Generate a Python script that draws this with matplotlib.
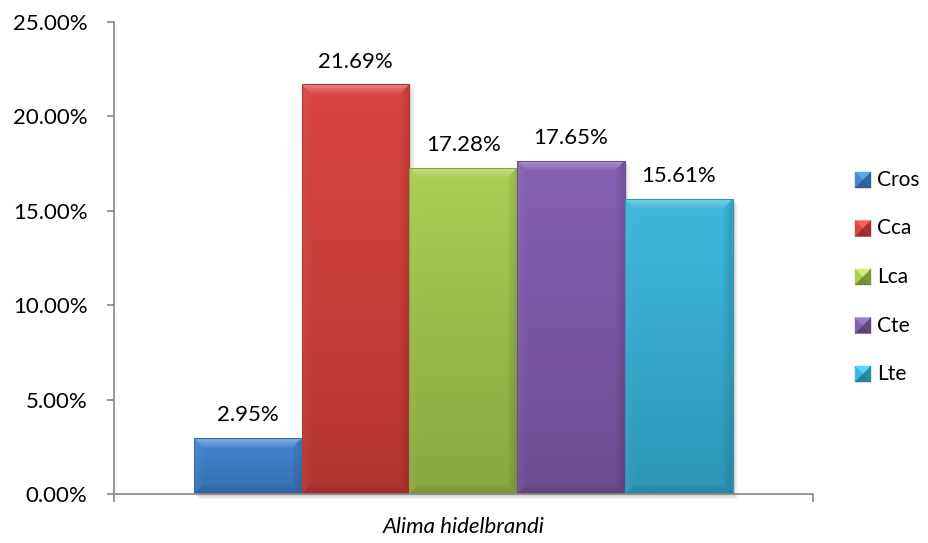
import numpy as np
import matplotlib
matplotlib.use("Agg")
import matplotlib.pyplot as plt
from matplotlib.patches import Polygon, Rectangle
from matplotlib.ticker import FuncFormatter, FixedLocator

# ---- data ----
species = "Alima hidelbrandi"
series = ["Cros", "Cca", "Lca", "Cte", "Lte"]
values = [2.95, 21.69, 17.28, 17.65, 15.61]          # percent
y_ticks = [0, 5, 10, 15, 20, 25]

# top / bottom shades of each series' fill
top_colors = ["#4687d2", "#da4642", "#aace54", "#8462b2", "#3eb8da"]
bottom_colors = ["#376eaf", "#b43432", "#89a640", "#6c4c90", "#2e96b6"]

FONT = "Lato"
FS = 16
W, H = 929, 543
fig = plt.figure(figsize=(W / 100, H / 100), dpi=100)
ax_l, ax_b, ax_w, ax_h = 114, 49, 699, 472
ax = fig.add_axes([ax_l / W, ax_b / H, ax_w / W, ax_h / H])

x = np.arange(len(series))
bar_w = 1.0
x_lo = -0.5 - 80 / 107.7
x_hi = x_lo + ax_w / 107.7
ax.set_xlim(x_lo, x_hi)
ax.set_ylim(0, 25)

px_x = ax_w / (x_hi - x_lo)   # pixels per x unit
px_y = ax_h / 25.0            # pixels per y unit


def hex2rgb(h):
    h = h.lstrip("#")
    return np.array([int(h[i:i + 2], 16) / 255 for i in (0, 2, 4)])


bars = ax.bar(x, values, width=bar_w, color=top_colors, linewidth=0, zorder=2)

for i, b in enumerate(bars):
    x0, y0 = b.get_x(), 0.0
    x1, y1 = x0 + b.get_width(), b.get_height()

    # soft drop shadow
    for k, a in [(5, 0.04), (3.5, 0.06), (2, 0.08)]:
        ax.add_patch(Rectangle((x0 + k / px_x, y0 - k / px_y), x1 - x0, y1 - y0,
                               facecolor="black", alpha=a, linewidth=0, zorder=1.5,
                               clip_on=False))

    # vertical gradient fill
    c_top, c_bot = hex2rgb(top_colors[i]), hex2rgb(bottom_colors[i])
    t = np.linspace(0, 1, 64)[:, None]
    grad = (c_top[None, :] * (1 - t) + c_bot[None, :] * t)[:, None, :]
    im = ax.imshow(grad, extent=(x0, x1, y0, y1), aspect="auto",
                   interpolation="bilinear", zorder=2.5, origin="upper")
    im.set_clip_path(b)

    # bevel facets, built from thin layers so they fade inward
    for frac, a_top, a_side in [(1.0, 0.09, 0.035), (0.7, 0.10, 0.035), (0.35, 0.13, 0.045)]:
        bx, by = 9 * frac / px_x, 9 * frac / px_y
        top = [(x0, y1), (x1, y1), (x1 - bx, y1 - by), (x0 + bx, y1 - by)]
        left = [(x0, y0), (x0, y1), (x0 + bx, y1 - by), (x0 + bx, y0 + by)]
        right = [(x1, y0), (x1, y1), (x1 - bx, y1 - by), (x1 - bx, y0 + by)]
        bottom = [(x0, y0), (x1, y0), (x1 - bx, y0 + by), (x0 + bx, y0 + by)]
        ax.add_patch(Polygon(top, closed=True, facecolor="white", alpha=a_top,
                             linewidth=0, zorder=3))
        ax.add_patch(Polygon(left, closed=True, facecolor="white", alpha=a_side * 0.6,
                             linewidth=0, zorder=3))
        ax.add_patch(Polygon(right, closed=True, facecolor="black", alpha=a_side,
                             linewidth=0, zorder=3))
        ax.add_patch(Polygon(bottom, closed=True, facecolor="black", alpha=a_side,
                             linewidth=0, zorder=3))
    ax.add_patch(Rectangle((x0, y0), x1 - x0, y1 - y0, facecolor="none",
                           edgecolor=bottom_colors[i], linewidth=0.8, zorder=3.2))

    ax.annotate(f"{values[i]:.2f}%", (x[i], values[i]), xytext=(0, 16.5),
                textcoords="offset points", ha="center", va="center",
                fontsize=FS, family=FONT, color="black", zorder=4)

ax.set_xlim(x_lo, x_hi)
ax.set_ylim(0, 25)

# axes styling
axis_grey = "#868686"
for s in ["top", "right"]:
    ax.spines[s].set_visible(False)
for s in ["left", "bottom"]:
    ax.spines[s].set_color(axis_grey)
    ax.spines[s].set_linewidth(1.2)
    ax.spines[s].set_zorder(5)

ax.yaxis.set_major_locator(FixedLocator(y_ticks))
ax.yaxis.set_major_formatter(FuncFormatter(lambda v, p: f"{v:.2f}%"))
ax.tick_params(axis="y", direction="out", length=5, width=1.2, color=axis_grey,
               pad=14, labelsize=FS)
for lab in ax.get_yticklabels():
    lab.set_family(FONT)

ax.set_xticks([x_lo, x_hi])
ax.set_xticklabels([])
ax.tick_params(axis="x", direction="out", length=5.5, width=1.2, color=axis_grey)

fig.text((ax_l + ax_w / 2) / W, 1 - 527 / H, species, ha="center", va="center",
         fontsize=FS, family=FONT, style="italic")

# legend with pyramid-bevelled keys
sq = 16
for i, name in enumerate(series):
    cy = 180 + 48.5 * i
    lx0, lx1 = 855, 855 + sq
    ly0, ly1 = H - (cy + sq / 2), H - (cy - sq / 2)
    cx, cyy = (lx0 + lx1) / 2, (ly0 + ly1) / 2
    base = hex2rgb(top_colors[i])
    dark = hex2rgb(bottom_colors[i])
    facets = [
        ([(lx0, ly1), (lx1, ly1), (cx, cyy)], np.clip(base * 1.1 + 0.06, 0, 1)),
        ([(lx0, ly0), (lx0, ly1), (cx, cyy)], base),
        ([(lx1, ly0), (lx1, ly1), (cx, cyy)], dark * 0.92),
        ([(lx0, ly0), (lx1, ly0), (cx, cyy)], dark * 0.85),
    ]
    for pts, col in facets:
        fig.add_artist(Polygon([(px / W, py / H) for px, py in pts], closed=True,
                               facecolor=col, edgecolor=col, linewidth=0.3,
                               transform=fig.transFigure))
    fig.text(877 / W, 1 - cy / H, name, ha="left", va="center", fontsize=15,
             family=FONT)

fig.savefig("out.png", dpi=100, facecolor="white")
